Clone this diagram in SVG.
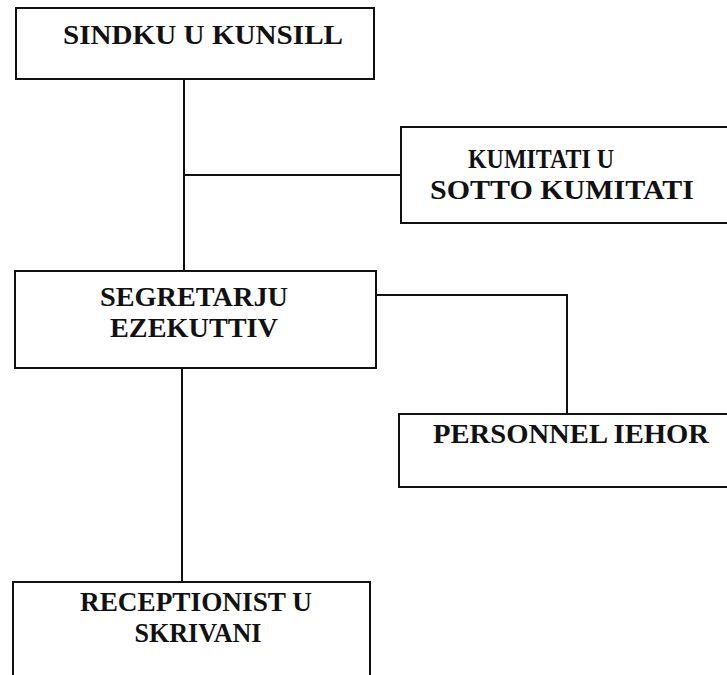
<svg xmlns="http://www.w3.org/2000/svg" width="727" height="675" viewBox="0 0 727 675">
<style>
.box{fill:#fff;stroke:#111;stroke-width:2}
.t{font-family:"Liberation Serif","Times New Roman",serif;font-weight:bold;font-size:27px;fill:#111;text-anchor:middle}
.c{fill:none;stroke:#111;stroke-width:2}
</style>
<rect width="727" height="675" fill="#fff"/>
<g id="connectors">
<line class="c" x1="184" y1="79" x2="184" y2="271"/>
<line class="c" x1="184" y1="175" x2="401" y2="175"/>
<polyline class="c" points="376,295 567,295 567,414"/>
<line class="c" x1="182" y1="368" x2="182" y2="582"/>
</g>
<g id="sindku">
<rect class="box" x="16" y="8" width="358" height="71"/>
<text class="t" x="203" y="44" textLength="280" lengthAdjust="spacingAndGlyphs">SINDKU U KUNSILL</text>
</g>
<g id="kumitati">
<rect class="box" x="401" y="127" width="340" height="96"/>
<text class="t" x="541" y="168" textLength="146" lengthAdjust="spacingAndGlyphs">KUMITATI U</text>
<text class="t" x="562" y="199" textLength="264" lengthAdjust="spacingAndGlyphs">SOTTO KUMITATI</text>
</g>
<g id="segretarju">
<rect class="box" x="15" y="271" width="361" height="97"/>
<text class="t" x="194" y="306" textLength="188" lengthAdjust="spacingAndGlyphs">SEGRETARJU</text>
<text class="t" x="194" y="337" textLength="168" lengthAdjust="spacingAndGlyphs">EZEKUTTIV</text>
</g>
<g id="personnel">
<rect class="box" x="399" y="414" width="340" height="73"/>
<text class="t" x="571" y="443" textLength="276" lengthAdjust="spacingAndGlyphs">PERSONNEL IEHOR</text>
</g>
<g id="receptionist">
<rect class="box" x="13" y="582" width="357" height="110"/>
<text class="t" x="196" y="611" textLength="232" lengthAdjust="spacingAndGlyphs">RECEPTIONIST U</text>
<text class="t" x="198" y="642" textLength="127" lengthAdjust="spacingAndGlyphs">SKRIVANI</text>
</g>
</svg>
